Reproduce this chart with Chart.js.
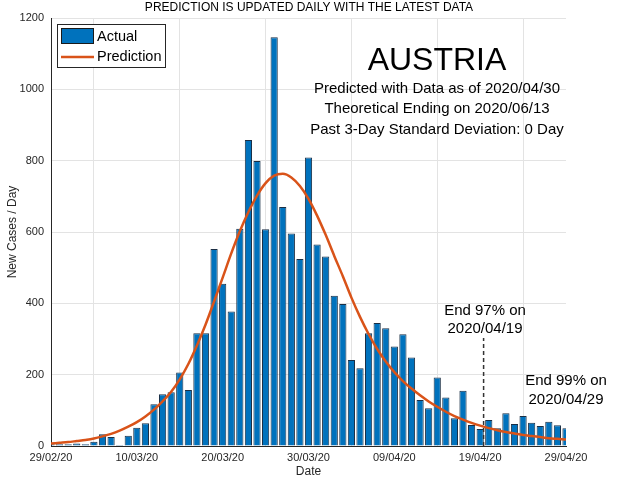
<!DOCTYPE html>
<html>
<head>
<meta charset="utf-8">
<script src="https://cdn.jsdelivr.net/npm/chart.js@4.4.1/dist/chart.umd.min.js"></script>
<style>
  html, body { margin: 0; padding: 0; background: #fff; }
</style>
</head>
<body>
<canvas id="austriaChart" width="622" height="478"></canvas>
<script>
/*
    Austria daily new cases vs. fitted prediction.
    x = days since 29/02/20
*/

Chart.defaults.font.family = "'Liberation Sans', Arial, sans-serif";
Chart.defaults.font.size = 11;
Chart.defaults.color = '#262626';


// DATA

// new cases per day, 29/02/20 .. 29/04/20
var actual = [
    5, 5, 5, 7, 5, 12, 33, 25, 3, 29,
    51, 64, 117, 145, 151, 206, 157, 316, 316, 552,
    455, 377, 609, 858, 799, 608, 1146, 670, 596, 524,
    809, 565, 531, 421, 398, 241, 218, 316, 345, 330,
    279, 313, 248, 129, 106, 192, 136, 78, 155, 59,
    48, 73, 50, 92, 62, 84, 65, 56, 68, 58, 50];

// fitted curve, same days
var prediction = [
    7, 9, 11, 14, 17, 21, 27, 34, 43, 54,
    67, 83, 102, 125, 152, 187, 230, 282, 340, 405,
    472, 540, 602, 656, 702, 737, 758, 763, 753, 729,
    693, 646, 592, 533, 476, 416, 362, 314, 272, 237,
    207, 182, 161, 142, 125, 110, 96, 84, 74, 65,
    57, 50, 44, 39, 35, 31, 28, 25, 22, 20, 18];

var tickLabels = ['29/02/20', '10/03/20', '20/03/20', '30/03/20', '09/04/20', '19/04/20', '29/04/20'];

var end97Day = 50.4;     // 19/04 marker
var end97Top = 303;

var BLUE = '#0072BD';
var ORANGE = '#D95319';
var FONT = "'Liberation Sans', Arial, sans-serif";


// ANNOTATIONS + LEGEND

var annotations = {
    id: 'annotations',
    afterDatasetsDraw: function(chart) {
        var ctx = chart.ctx;
        var x = chart.scales.x, y = chart.scales.y;

        // dashed end-97% line
        ctx.save();
        ctx.setLineDash([4, 3]);
        ctx.strokeStyle = '#333';
        ctx.lineWidth = 1.5;
        ctx.beginPath();
        ctx.moveTo(x.getPixelForValue(end97Day), y.getPixelForValue(0));
        ctx.lineTo(x.getPixelForValue(end97Day), y.getPixelForValue(end97Top));
        ctx.stroke();
        ctx.restore();
    },
    afterDraw: function(chart) {
        var ctx = chart.ctx;
        ctx.save();
        ctx.fillStyle = '#000';
        ctx.textAlign = 'center';
        ctx.textBaseline = 'middle';

        ctx.font = '12px ' + FONT;
        ctx.fillText('PREDICTION IS UPDATED DAILY WITH THE LATEST DATA', 309, 8);

        ctx.font = '32px ' + FONT;
        ctx.fillText('AUSTRIA', 437, 61);

        ctx.font = '15px ' + FONT;
        ctx.fillText('Predicted with Data as of 2020/04/30', 437, 89);
        ctx.fillText('Theoretical Ending on 2020/06/13', 437, 109);
        ctx.fillText('Past 3-Day Standard Deviation: 0 Day', 437, 130);

        ctx.fillText('End 97% on', 485, 311);
        ctx.fillText('2020/04/19', 485, 329);
        ctx.fillText('End 99% on', 566, 381);
        ctx.fillText('2020/04/29', 566, 400);

        // legend box
        ctx.fillStyle = '#fff';
        ctx.fillRect(57, 24, 108, 43);
        ctx.strokeStyle = '#262626';
        ctx.lineWidth = 1;
        ctx.strokeRect(57.5, 24.5, 108, 43);

        ctx.fillStyle = BLUE;
        ctx.fillRect(61, 28, 33, 16);
        ctx.strokeStyle = '#1a1a1a';
        ctx.strokeRect(61.5, 28.5, 32, 15);

        ctx.strokeStyle = ORANGE;
        ctx.lineWidth = 2.5;
        ctx.beginPath();
        ctx.moveTo(61, 57);
        ctx.lineTo(94, 57);
        ctx.stroke();

        ctx.fillStyle = '#000';
        ctx.textAlign = 'left';
        ctx.font = '14.5px ' + FONT;
        ctx.fillText('Actual', 97, 37);
        ctx.fillText('Prediction', 97, 57);
        ctx.restore();
    }
};


// CHART

var ctx_a = document.getElementById('austriaChart').getContext('2d');

var austria_chart = new Chart(ctx_a, {
    type: 'bar',

    data: {
        datasets: [
            {
                type: 'line',
                label: 'Prediction',
                data: prediction.map(function(v, i) { return {x: i, y: v}; }),
                borderColor: ORANGE,
                borderWidth: 2.5,
                pointRadius: 0,
                cubicInterpolationMode: 'monotone',
                clip: 0,
                order: 0,
            },
            {
                label: 'Actual',
                data: actual.map(function(v, i) { return {x: i, y: v}; }),
                backgroundColor: BLUE,
                borderColor: '#1b2f45',
                borderWidth: 1,
                barPercentage: 0.84,
                categoryPercentage: 1.0,
                clip: 0,
                order: 1,
            },
        ],
    },

    options: {
        responsive: false,
        animation: false,
        devicePixelRatio: 1,
        layout: {padding: {left: 0, right: 56, top: 18, bottom: 0}},

        scales: {
            x: {
                type: 'linear',
                min: 0,
                max: 60,
                offset: false,
                afterFit: function(scale) { scale.height = 32; },
                grid: {color: '#e3e3e3', drawTicks: false},
                border: {color: '#262626'},
                ticks: {
                    stepSize: 10,
                    padding: 5,
                    maxRotation: 0,
                    callback: function(value) { return tickLabels[value / 10]; },
                },
                title: {display: true, text: 'Date', font: {size: 12}, padding: {top: 0, bottom: -1}},
            },
            y: {
                min: 0,
                max: 1200,
                afterFit: function(scale) { scale.width = 51; },
                grid: {color: '#e3e3e3', drawTicks: false},
                border: {color: '#262626'},
                ticks: {
                    stepSize: 200,
                    padding: 7,
                    callback: function(value) { return String(value); },
                },
                title: {display: true, text: 'New Cases / Day', font: {size: 12}, padding: {top: 5, bottom: 0}},
            },
        },

        plugins: {
            legend: {display: false},
            tooltip: {enabled: false},
            title: {display: false},
        },
    },

    plugins: [annotations],
});
</script>
</body>
</html>
